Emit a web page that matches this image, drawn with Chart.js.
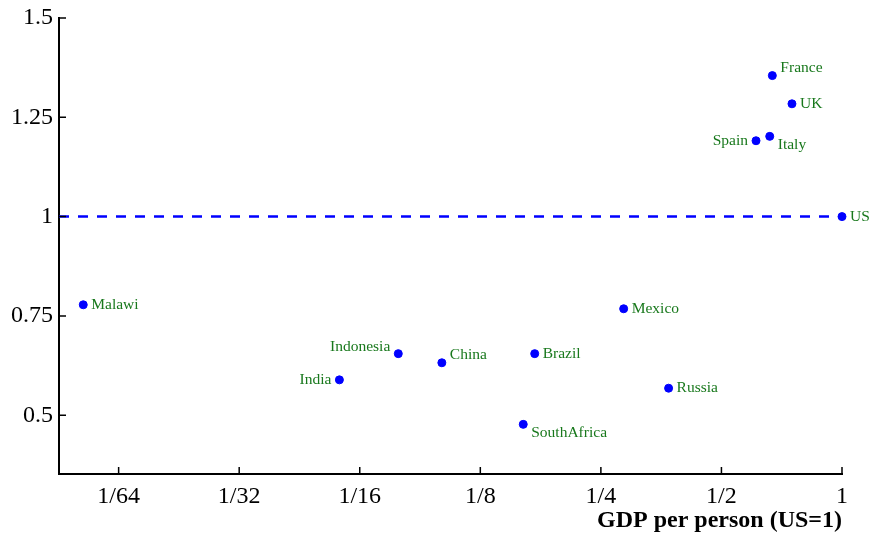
<!DOCTYPE html>
<html>
<head>
<meta charset="utf-8">
<script src="https://cdn.jsdelivr.net/npm/chart.js@4.4.1/dist/chart.umd.min.js"></script>
<style>
  html, body { margin: 0; padding: 0; background: #fff; }
  #wrap { width: 871px; height: 535px; }
</style>
</head>
<body>
<div id="wrap"><canvas id="chart0"></canvas></div>
<script>
// countries, GDP per person relative to the US, and the index on the vertical axis
var countries = ['Malawi', 'India', 'Indonesia', 'China', 'SouthAfrica', 'Brazil', 'Mexico', 'Russia', 'Spain', 'Italy', 'France', 'UK', 'US'];
var gdpPerPerson = [0.01275, 0.0556, 0.0780, 0.1002, 0.160, 0.1709, 0.285, 0.369, 0.610, 0.660, 0.670, 0.750, 1];
var indexValues = [0.778, 0.589, 0.655, 0.632, 0.477, 0.655, 0.768, 0.568, 1.191, 1.202, 1.355, 1.284, 1];

var xTickValues = [1/64, 1/32, 1/16, 1/8, 1/4, 1/2, 1];
var xTickLabels = ['1/64', '1/32', '1/16', '1/8', '1/4', '1/2', '1'];
var yTickValues = [0.5, 0.75, 1, 1.25, 1.5];
var yTickLabels = ['0.5', '0.75', '1', '1.25', '1.5'];

var xMin = 0.01109, xMax = 1;
var yMin = 0.352, yMax = 1.5;
var referenceLevel = 1;

// where each name sits around its dot
var labelSide = {
    Malawi: 'e', India: 'w', Indonesia: 'nw', China: 'ne', SouthAfrica: 'se', Brazil: 'e',
    Mexico: 'e', Russia: 'e', Spain: 'w', Italy: 'se', France: 'ne', UK: 'e', US: 'e'
};

var serif = '"Liberation Serif", "Times New Roman", serif';

var points = countries.map(function (c, i) { return { x: gdpPerPerson[i], y: indexValues[i] }; });

var nameLabels = {
    id: 'nameLabels',
    afterDatasetsDraw: function (chart) {
        var ctx = chart.ctx;
        var meta = chart.getDatasetMeta(1);
        ctx.save();
        ctx.font = '15.5px ' + serif;
        ctx.fillStyle = '#18781c';
        ctx.textBaseline = 'middle';
        meta.data.forEach(function (pt, i) {
            var side = labelSide[countries[i]] || 'e';
            var dx = 8, dy = 0;
            if (side === 'w' || side === 'nw') { dx = -8; ctx.textAlign = 'right'; } else { ctx.textAlign = 'left'; }
            if (side === 'ne') dy = -8;
            if (side === 'nw') dy = -7;
            if (side === 'se') dy = 9;
            ctx.fillText(countries[i], pt.x + dx, pt.y + dy);
        });
        ctx.restore();
    }
};

// short ticks pointing into the plot
var innerTicks = {
    id: 'innerTicks',
    afterDraw: function (chart) {
        var ctx = chart.ctx, a = chart.chartArea;
        var xs = chart.scales.x, ys = chart.scales.y;
        ctx.save();
        ctx.strokeStyle = '#000';
        ctx.lineWidth = 1.5;
        ctx.beginPath();
        xTickValues.forEach(function (v) {
            var px = xs.getPixelForValue(v);
            ctx.moveTo(px, a.bottom);
            ctx.lineTo(px, a.bottom - 7);
        });
        yTickValues.forEach(function (v) {
            var py = ys.getPixelForValue(v);
            ctx.moveTo(a.left, py);
            ctx.lineTo(a.left + 7, py);
        });
        ctx.stroke();
        ctx.restore();
    }
};

new Chart(document.getElementById('chart0'), {
    type: 'scatter',
    data: {
        datasets: [{
            type: 'line',
            data: [{ x: xMin, y: referenceLevel }, { x: xMax, y: referenceLevel }],
            borderColor: '#0000ff',
            borderWidth: 2.5,
            borderDash: [10, 9],
            pointRadius: 0,
            fill: false
        }, {
            data: points,
            backgroundColor: '#0000ff',
            borderColor: '#0000ff',
            pointRadius: 4,
            pointHoverRadius: 4,
            clip: false
        }]
    },
    options: {
        responsive: true,
        maintainAspectRatio: false,
        animation: false,
        events: [],
        layout: { padding: { top: 16, right: 29, left: 0, bottom: 0 } },
        plugins: { legend: { display: false }, tooltip: { enabled: false } },
        scales: {
            x: {
                type: 'logarithmic',
                min: xMin,
                max: xMax,
                afterBuildTicks: function (scale) {
                    scale.ticks = xTickValues.map(function (v) { return { value: v }; });
                },
                afterFit: function (scale) { scale.height = 61; },
                grid: { display: false, drawTicks: false },
                border: { display: true, color: '#000', width: 2 },
                ticks: {
                    autoSkip: false,
                    maxRotation: 0,
                    padding: 8,
                    color: '#000',
                    font: { family: serif, size: 24 },
                    callback: function (value, index) { return xTickLabels[index]; }
                },
                title: {
                    display: true,
                    text: 'GDP per person (US=1)',
                    align: 'end',
                    color: '#000',
                    font: { family: serif, size: 24, weight: 'bold' },
                    padding: { top: 0, bottom: 0 }
                }
            },
            y: {
                min: yMin,
                max: yMax,
                afterBuildTicks: function (scale) {
                    scale.ticks = yTickValues.map(function (v) { return { value: v }; });
                },
                afterFit: function (scale) { scale.width = 59; },
                grid: { display: false, drawTicks: false },
                border: { display: true, color: '#000', width: 2 },
                ticks: {
                    padding: 6,
                    color: '#000',
                    font: { family: serif, size: 24, lineHeight: 1 },
                    callback: function (value, index) { return yTickLabels[index]; }
                }
            }
        }
    },
    plugins: [nameLabels, innerTicks]
});
</script>
</body>
</html>
